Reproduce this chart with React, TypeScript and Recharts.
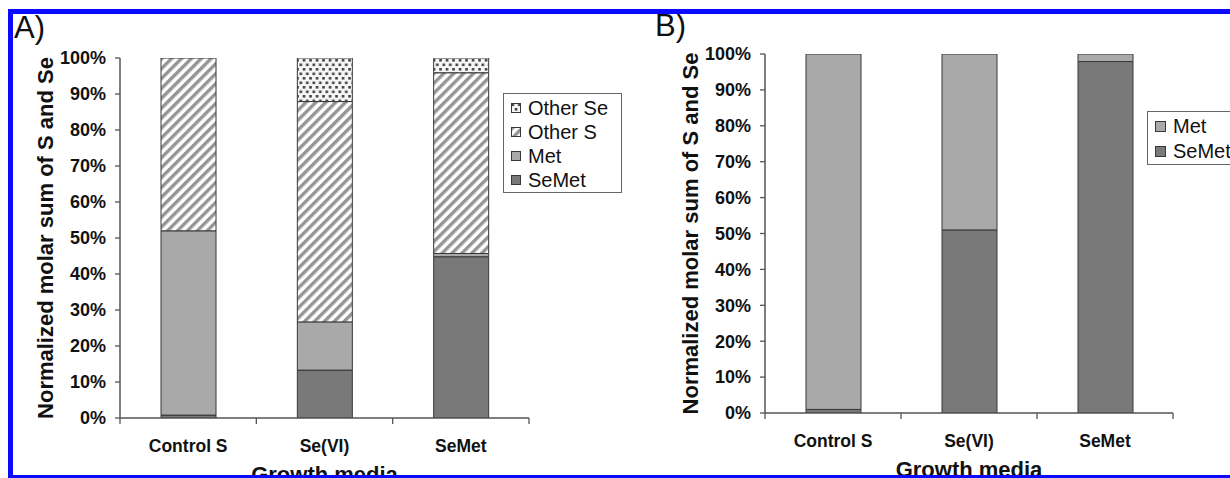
import React from "react";
import { BarChart, Bar, XAxis, YAxis, Legend, Label } from "recharts";

const categories = ["Control S", "Se(VI)", "SeMet"];
// panel A: stacked shares (%), bottom to top
const panelASeMet = [0.8, 13.3, 44.8];
const panelAMet = [51.2, 13.4, 0.9];
const panelAOtherS = [48.0, 61.2, 50.2];
const panelAOtherSe = [0, 12.1, 4.1];
// panel B
const panelBSeMet = [1.0, 51.0, 97.9];
const panelBMet = [99.0, 49.0, 2.1];
const percentTicks = [0, 10, 20, 30, 40, 50, 60, 70, 80, 90, 100];

const FONT = "'Liberation Sans', Arial, Helvetica, sans-serif";
const MET_GRAY = "#a9a9a9";
const SEMET_GRAY = "#797979";
const EDGE = "#383838";
const AXIS = "#555";

const dataA = categories.map((name, i) => ({
  name,
  SeMet: panelASeMet[i],
  Met: panelAMet[i],
  "Other S": panelAOtherS[i],
  "Other Se": panelAOtherSe[i],
}));
const dataB = categories.map((name, i) => ({ name, SeMet: panelBSeMet[i], Met: panelBMet[i] }));

function makeCategoryTick(half: number) {
  return (props: any) => {
    const { x, y, payload, index } = props;
    const last = index === categories.length - 1;
    return (
      <g>
        <line x1={x - half} x2={x - half} y1={y} y2={y + 6} stroke={AXIS} strokeWidth={1.3} />
        {last && <line x1={x + half} x2={x + half} y1={y} y2={y + 6} stroke={AXIS} strokeWidth={1.3} />}
        <text x={x} y={y + 34} textAnchor="middle" fontFamily={FONT} fontWeight={700} fontSize={17.5} fill="#111">
          {payload.value}
        </text>
      </g>
    );
  };
}

const yTitle = (p: any) => {
  const vb = p.viewBox;
  const cx = vb.x + vb.width - 67;
  const cy = vb.y + vb.height / 2;
  return (
    <text x={cx} y={cy} transform={`rotate(-90 ${cx} ${cy})`} textAnchor="middle" fontFamily={FONT} fontWeight={700} fontSize={22} fill="#111">
      Normalized molar sum of S and Se
    </text>
  );
};

const xTitle = (p: any) => {
  const vb = p.viewBox;
  return (
    <text x={vb.x + vb.width / 2} y={vb.y + 64} textAnchor="middle" fontFamily={FONT} fontWeight={700} fontSize={22} fill="#111">
      Growth media
    </text>
  );
};

function makeLegend(order: string[], iconSize: number, rowHeight: number, width: number) {
  return (props: any) => {
    const payload = (props.payload || []) as any[];
    const items = order.map((n) => payload.find((e) => e.value === n)).filter(Boolean);
    return (
      <div
        style={{
          border: "1px solid #666",
          background: "#fff",
          width,
          paddingTop: 2,
          boxSizing: "border-box",
          fontFamily: FONT,
          fontSize: 20,
          color: "#111",
        }}
      >
        {items.map((e: any) => (
          <div key={e.value} style={{ height: rowHeight, display: "flex", alignItems: "center", paddingLeft: 7, whiteSpace: "nowrap" }}>
            <svg width={iconSize} height={iconSize} style={{ marginRight: 7, flex: "none" }}>
              <rect x={0.5} y={0.5} width={iconSize - 1} height={iconSize - 1} fill={e.color} stroke={EDGE} strokeWidth={1} />
            </svg>
            <span>{e.value}</span>
          </div>
        ))}
      </div>
    );
  };
}

const axisLine = { stroke: AXIS, strokeWidth: 1.5 };
const yTick = { fill: "#111", fontSize: 18, fontWeight: 700, fontFamily: FONT };

export default function App() {
  return (
    <div style={{ position: "absolute", left: 0, top: 0, width: 1230, height: 478, overflow: "hidden", background: "#fff" }}>
      <svg width={0} height={0} style={{ position: "absolute" }}>
        <defs>
          <pattern id="hatchOtherS" patternUnits="userSpaceOnUse" width={7} height={7} patternTransform="rotate(45)">
            <rect width={7} height={7} fill="#fff" />
            <rect width={3.4} height={7} fill="#959595" />
          </pattern>
          <pattern id="dotsOtherSe" patternUnits="userSpaceOnUse" width={6.5} height={9}>
            <rect width={6.5} height={9} fill="#f6f6f6" />
            <rect x={0.5} y={0.5} width={2.6} height={2.6} fill="#444" />
            <rect x={3.75} y={5} width={2.6} height={2.6} fill="#444" />
          </pattern>
        </defs>
      </svg>

      <div style={{ position: "absolute", left: 14, top: 12, fontFamily: FONT, fontSize: 31, lineHeight: "31px", color: "#111" }}>A)</div>
      <div style={{ position: "absolute", left: 655, top: 10, fontFamily: FONT, fontSize: 31, lineHeight: "31px", color: "#111" }}>B)</div>

      <div style={{ position: "absolute", left: 0, top: 0 }}>
        <BarChart width={640} height={478} data={dataA} margin={{ top: 58, right: 111, bottom: 0, left: 0 }}>
          <XAxis dataKey="name" interval={0} height={60} tickSize={0} tickMargin={0} tickLine={false} axisLine={axisLine} tick={makeCategoryTick(409 / 6)}>
            <Label content={xTitle} />
          </XAxis>
          <YAxis type="number" domain={[0, 100]} allowDataOverflow ticks={percentTicks} interval={0} width={120} tickSize={5} tickMargin={9} tickFormatter={(v) => `${v}%`} tick={yTick} tickLine={{ stroke: AXIS, strokeWidth: 1.3 }} axisLine={axisLine}>
            <Label content={yTitle} />
          </YAxis>
          <Legend layout="vertical" align="center" verticalAlign="middle" wrapperStyle={{ left: 503, top: 93, width: 119 }} content={makeLegend(["Other Se", "Other S", "Met", "SeMet"], 10, 24, 119)} />
          <Bar dataKey="SeMet" name="SeMet" stackId="a" fill={SEMET_GRAY} stroke={EDGE} strokeWidth={1} barSize={55} isAnimationActive={false} />
          <Bar dataKey="Met" name="Met" stackId="a" fill={MET_GRAY} stroke={EDGE} strokeWidth={1} barSize={55} isAnimationActive={false} />
          <Bar dataKey="Other S" name="Other S" stackId="a" fill="url(#hatchOtherS)" stroke={EDGE} strokeWidth={1} barSize={55} isAnimationActive={false} />
          <Bar dataKey="Other Se" name="Other Se" stackId="a" fill="url(#dotsOtherSe)" stroke={EDGE} strokeWidth={1} barSize={55} isAnimationActive={false} />
        </BarChart>
      </div>

      <div style={{ position: "absolute", left: 620, top: 0 }}>
        <BarChart width={610} height={478} data={dataB} margin={{ top: 54, right: 57, bottom: 0, left: 0 }}>
          <XAxis dataKey="name" interval={0} height={65} tickSize={0} tickMargin={0} tickLine={false} axisLine={axisLine} tick={makeCategoryTick(408 / 6)}>
            <Label content={xTitle} />
          </XAxis>
          <YAxis type="number" domain={[0, 100]} allowDataOverflow ticks={percentTicks} interval={0} width={145} tickSize={5} tickMargin={9} tickFormatter={(v) => `${v}%`} tick={yTick} tickLine={{ stroke: AXIS, strokeWidth: 1.3 }} axisLine={axisLine}>
            <Label content={yTitle} />
          </YAxis>
          <Legend layout="vertical" align="center" verticalAlign="middle" wrapperStyle={{ left: 527, top: 111, width: 110 }} content={makeLegend(["Met", "SeMet"], 11, 25, 110)} />
          <Bar dataKey="SeMet" name="SeMet" stackId="b" fill={SEMET_GRAY} stroke={EDGE} strokeWidth={1} barSize={55} isAnimationActive={false} />
          <Bar dataKey="Met" name="Met" stackId="b" fill={MET_GRAY} stroke={EDGE} strokeWidth={1} barSize={55} isAnimationActive={false} />
        </BarChart>
      </div>

      <div style={{ position: "absolute", left: 8, top: 9, width: 1300, height: 471, boxSizing: "border-box", border: "5px solid #0a0aff", pointerEvents: "none" }} />
    </div>
  );
}
